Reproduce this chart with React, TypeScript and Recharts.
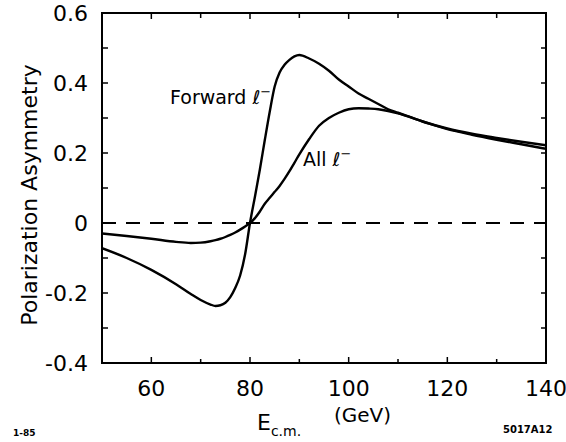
import React from "react";
import { LineChart, Line, XAxis, YAxis, ReferenceLine } from "recharts";

// E_cm (GeV) and the two asymmetry curves
const ENERGY = [50, 55, 60, 65, 68, 70, 72, 73, 74, 75, 76, 77, 78, 79, 80, 81, 82, 83, 84, 85, 86, 87, 88, 89, 90, 92, 94, 96, 98, 100, 102, 104, 106, 108, 110, 115, 120, 125, 130, 135, 140];
const FORWARD = [-0.072, -0.1, -0.134, -0.175, -0.203, -0.22, -0.233, -0.237, -0.235, -0.228, -0.212, -0.186, -0.15, -0.09, 0, 0.075, 0.153, 0.237, 0.318, 0.39, 0.43, 0.452, 0.466, 0.476, 0.48, 0.47, 0.455, 0.435, 0.41, 0.39, 0.37, 0.355, 0.34, 0.325, 0.315, 0.29, 0.27, 0.255, 0.243, 0.232, 0.222];
const ALL = [-0.03, -0.037, -0.045, -0.054, -0.057, -0.056, -0.052, -0.049, -0.045, -0.04, -0.034, -0.027, -0.019, -0.01, 0, 0.014, 0.033, 0.055, 0.072, 0.089, 0.106, 0.126, 0.148, 0.172, 0.196, 0.24, 0.278, 0.3, 0.315, 0.325, 0.328, 0.327, 0.325, 0.32, 0.313, 0.29, 0.268, 0.252, 0.238, 0.225, 0.212];

const X_TICKS = [60, 70, 80, 90, 100, 110, 120, 130, 140];
const Y_TICKS = [-0.4, -0.3, -0.2, -0.1, 0, 0.1, 0.2, 0.3, 0.4, 0.5, 0.6];
const Y_LABELS = ["-0.4", "", "-0.2", "", "0", "", "0.2", "", "0.4", "", "0.6"];

const X_MIN = 50;
const X_MAX = 140;
const Y_MIN = -0.4;
const Y_MAX = 0.6;

// plot box in page pixels (follows from the chart margins / axis sizes below)
const W = 566;
const H = 442;
const LEFT = 102;
const TOP = 13;
const RIGHT = W - 20;
const BOTTOM = H - 79;
const px = (v: number) => LEFT + ((v - X_MIN) / (X_MAX - X_MIN)) * (RIGHT - LEFT);
const py = (v: number) => TOP + ((Y_MAX - v) / (Y_MAX - Y_MIN)) * (BOTTOM - TOP);

const FONT = "DejaVu Sans";

const data = ENERGY.map((e, i) => ({ e, forward: FORWARD[i], all: ALL[i] }));

const BottomTick = (props: any) => {
  const { x, y, payload } = props;
  const major = payload.value % 20 === 0;
  return (
    <g>
      <line x1={x} x2={x} y1={y} y2={y - (major ? 6 : 4)} stroke="#000" strokeWidth={1.5} />
      {major && (
        <text x={x} y={y + 33} textAnchor="middle" fontSize={22} fontFamily={FONT} fill="#000">
          {payload.value}
        </text>
      )}
    </g>
  );
};

export default function App() {
  return (
    <div style={{ position: "relative", width: W, height: H, background: "#fff" }}>
      <style>{"body{margin:0}"}</style>
      <LineChart width={W} height={H} data={data} margin={{ top: TOP, right: W - RIGHT, bottom: 0, left: 0 }}>
        <XAxis
          dataKey="e"
          type="number"
          domain={[X_MIN, X_MAX]}
          allowDataOverflow
          ticks={X_TICKS}
          height={H - BOTTOM}
          tickSize={0}
          tickMargin={0}
          tickLine={false}
          axisLine={{ stroke: "#000", strokeWidth: 2 }}
          tick={BottomTick}
        />
        <YAxis
          type="number"
          domain={[Y_MIN, Y_MAX]}
          allowDataOverflow
          ticks={Y_TICKS}
          width={LEFT}
          tickSize={0}
          tickMargin={14}
          tickLine={false}
          axisLine={{ stroke: "#000", strokeWidth: 2 }}
          tick={{ fill: "#000", fontSize: 22, fontFamily: FONT }}
          tickFormatter={(_v: number, i: number) => Y_LABELS[i]}
        />
        <ReferenceLine y={Y_MAX} stroke="#000" strokeWidth={2} />
        <ReferenceLine x={X_MAX} stroke="#000" strokeWidth={2} />
        <ReferenceLine y={0} stroke="#000" strokeWidth={1.8} strokeDasharray="14 10" />
        <Line dataKey="forward" type="monotone" stroke="#000" strokeWidth={2.4} dot={false} isAnimationActive={false} />
        <Line dataKey="all" type="monotone" stroke="#000" strokeWidth={2.4} dot={false} isAnimationActive={false} />
      </LineChart>
      <svg width={W} height={H} style={{ position: "absolute", left: 0, top: 0, pointerEvents: "none" }}>
        {/* full frame with inward ticks on the top, left and right edges */}
        <rect x={LEFT} y={TOP} width={RIGHT - LEFT} height={BOTTOM - TOP} fill="none" stroke="#000" strokeWidth={2} />
        {X_TICKS.map((v) => (
          <line key={"t" + v} x1={px(v)} x2={px(v)} y1={TOP} y2={TOP + (v % 20 === 0 ? 6 : 5)} stroke="#000" strokeWidth={1.5} />
        ))}
        {Y_TICKS.map((v) => (
          <line key={"l" + v} x1={LEFT} x2={LEFT + 6} y1={py(v)} y2={py(v)} stroke="#000" strokeWidth={1.5} />
        ))}
        {Y_TICKS.map((v) => (
          <line key={"r" + v} x1={RIGHT} x2={RIGHT - 5} y1={py(v)} y2={py(v)} stroke="#000" strokeWidth={1.5} />
        ))}
        <g fontFamily={FONT} fill="#000">
          <text transform="translate(37,195) rotate(-90)" textAnchor="middle" fontSize={22}>
            Polarization Asymmetry
          </text>
          <text x={170} y={104} fontSize={19}>
            Forward ℓ<tspan dy={-8} fontSize={13}>−</tspan>
          </text>
          <text x={303} y={166} fontSize={19}>
            All ℓ<tspan dy={-8} fontSize={13}>−</tspan>
          </text>
          <text x={257} y={430} fontSize={22}>
            E<tspan dy={6} fontSize={14}>c.m.</tspan>
          </text>
          <text x={334} y={422} fontSize={20}>
            (GeV)
          </text>
          <text x={13} y={436} fontSize={9} fontWeight="bold">
            1-85
          </text>
          <text x={503} y={433} fontSize={10} fontWeight="bold">
            5017A12
          </text>
        </g>
      </svg>
    </div>
  );
}
